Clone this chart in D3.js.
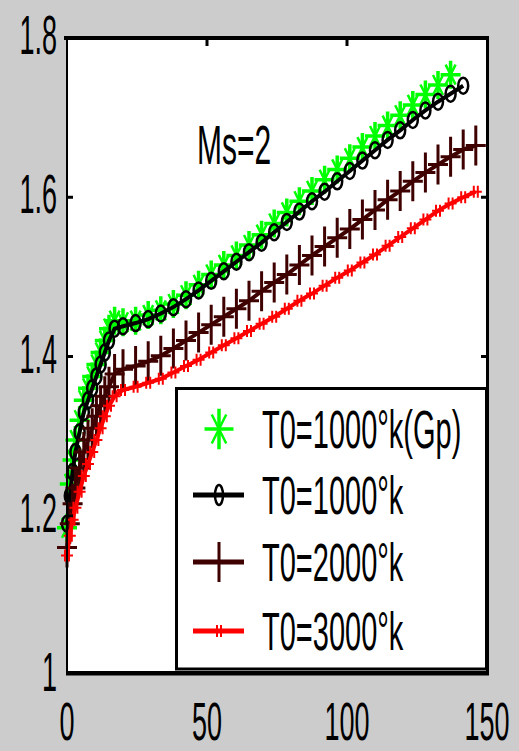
<!DOCTYPE html>
<html>
<head>
<meta charset="utf-8">
<script src="https://cdn.jsdelivr.net/npm/d3@7"></script>
<style>
body{margin:0;background:#cccccc;}
svg{display:block;}
text{font-family:"Liberation Sans",Arial,sans-serif;fill:#000;}
</style>
</head>
<body>
<svg id="chart" width="519" height="751"></svg>
<script>
// x positions shared by all curves
const xs = [0, 1, 2, 3, 4.5, 6, 7.5, 9, 10.5, 12, 13.5, 15, 17, 20, 24.5, 29, 33.5, 38, 42.5, 47,
            51.5, 56, 60.5, 65, 69.5, 74, 78.5, 83, 87.5, 92, 96.5, 101, 105.5, 110, 114.5, 119,
            123.5, 128, 132.5, 137, 141.5, 146]

// T0=1000°k (Gp) - green stars
const yGp1000 = [1.185, 1.24, 1.27, 1.295, 1.32, 1.345, 1.36, 1.375, 1.39, 1.405, 1.42, 1.435, 1.445,
                 1.443, 1.445, 1.452, 1.458, 1.466, 1.477, 1.49, 1.503, 1.515, 1.527, 1.54, 1.553,
                 1.567, 1.581, 1.595, 1.608, 1.622, 1.635, 1.649, 1.663, 1.677, 1.69, 1.703, 1.716,
                 1.729, 1.741, 1.754]
// T0=1000°k - black circles
const y1000 = [1.19, 1.225, 1.255, 1.28, 1.305, 1.33, 1.345, 1.36, 1.375, 1.39, 1.405, 1.42, 1.435,
               1.438, 1.442, 1.447, 1.454, 1.462, 1.472, 1.483, 1.495, 1.507, 1.519, 1.531, 1.543,
               1.556, 1.569, 1.582, 1.595, 1.607, 1.62, 1.633, 1.646, 1.659, 1.672, 1.684, 1.697,
               1.709, 1.72, 1.73, 1.74]
// T0=2000°k - dark red plus
const y2000 = [1.16, 1.19, 1.215, 1.235, 1.26, 1.28, 1.295, 1.31, 1.325, 1.338, 1.35, 1.362, 1.378,
               1.384, 1.388, 1.394, 1.401, 1.41, 1.42, 1.43, 1.44, 1.45, 1.46, 1.47, 1.482, 1.493,
               1.503, 1.515, 1.527, 1.538, 1.549, 1.56, 1.572, 1.584, 1.597, 1.608, 1.62, 1.631,
               1.641, 1.651, 1.66, 1.665]
// T0=3000°k - red small plus
const y3000 = [1.15, 1.175, 1.195, 1.21, 1.23, 1.25, 1.265, 1.28, 1.295, 1.31, 1.325, 1.338, 1.35,
               1.358, 1.362, 1.367, 1.372, 1.38, 1.388, 1.396, 1.405, 1.414, 1.423, 1.432, 1.441,
               1.45, 1.46, 1.47, 1.479, 1.489, 1.499, 1.508, 1.518, 1.528, 1.539, 1.55, 1.561,
               1.572, 1.583, 1.592, 1.6, 1.607]

const xTicks = [0, 50, 100, 150]
const yTicks = [1, 1.2, 1.4, 1.6, 1.8]
const yTickLabels = ["1", "1.2", "1.4", "1.6", "1.8"]
const legendLabels = ["T0=1000°k(Gp)", "T0=1000°k", "T0=2000°k", "T0=3000°k"]
const seriesColors = ["#00ff00", "#000000", "#3f0000", "#ff0000"]
const annotation = "Ms=2"

const series = [
    {ys: yGp1000, color: seriesColors[0], line: false, marker: "star"},
    {ys: y1000, color: seriesColors[1], line: true, marker: "circle"},
    {ys: y2000, color: seriesColors[2], line: true, marker: "plus"},
    {ys: y3000, color: seriesColors[3], line: true, marker: "small"}
]

let svg = d3.select("#chart")
let xScale = d3.scaleLinear().domain([0, 150]).range([67, 487])
let yScale = d3.scaleLinear().domain([1, 1.8]).range([675, 38])

// plot area
svg.append("rect").attr("x", 67).attr("y", 38).attr("width", 420).attr("height", 635).attr("fill", "#fff")

// marker drawing (big = legend size)
function drawMarker(g, type, color, big) {
    let k = big ? 1.45 : 1
    if (type == "star") {
        g.append("path").attr("d", `M0,${-14*k}V${14*k}M${-10*k},0H${10*k}`)
            .attr("stroke", color).attr("stroke-width", 3.5).attr("fill", "none")
        g.append("path").attr("d", `M${-5*k},${-10*k}L${5*k},${10*k}M${-5*k},${10*k}L${5*k},${-10*k}`)
            .attr("stroke", color).attr("stroke-width", 2.5).attr("fill", "none")
    } else if (type == "circle") {
        g.append("ellipse").attr("rx", big ? 4 : 5).attr("ry", big ? 10 : 8)
            .attr("stroke", color).attr("stroke-width", 2.5).attr("fill", "none")
    } else if (type == "plus") {
        g.append("path").attr("d", "M0,-20V20M-10,0H10")
            .attr("stroke", color).attr("stroke-width", 3).attr("fill", "none")
    } else {
        g.append("path").attr("d", "M-2,-6V6M2,-6V6M-6,0H6")
            .attr("stroke", color).attr("stroke-width", 2).attr("fill", "none")
    }
}

let line = d3.line().x(function (d, i) {return xScale(xs[i])}).y(function (d) {return yScale(d)})

series.forEach(function (s) {
    let g = svg.append("g")
    if (s.line) {
        g.append("path").datum(s.ys).attr("d", line)
            .attr("fill", "none").attr("stroke", s.color).attr("stroke-width", 4)
    }
    g.selectAll(".mk").data(s.ys).enter().append("g").attr("class", "mk")
        .attr("transform", function (d, i) {return `translate(${xScale(xs[i])},${yScale(d)})`})
        .each(function () {drawMarker(d3.select(this), s.marker, s.color, false)})
})

// annotation
svg.append("text").attr("transform", "translate(197,164) scale(1,1.82)")
    .attr("font-size", 30).text(annotation)

// legend box
let lg = svg.append("g")
lg.append("rect").attr("x", 176.5).attr("y", 388.5).attr("width", 310).attr("height", 280.5)
    .attr("fill", "#fff").attr("stroke", "#000").attr("stroke-width", 3)
const legendY = [429, 495, 562, 631]
legendLabels.forEach(function (d, i) {
    let row = lg.append("g").attr("transform", `translate(219,${legendY[i]})`)
    if (series[i].line) {
        row.append("line").attr("x1", -26).attr("x2", 25).attr("stroke", series[i].color).attr("stroke-width", 5)
    }
    drawMarker(row, series[i].marker, series[i].color, true)
    lg.append("text").attr("transform", `translate(262,${legendY[i] + 19}) scale(1,1.87)`)
        .attr("font-size", 29).text(d)
})

// axes box
svg.append("line").attr("x1", 64).attr("x2", 489).attr("y1", 38).attr("y2", 38).attr("stroke", "#000").attr("stroke-width", 4)
svg.append("line").attr("x1", 67).attr("x2", 67).attr("y1", 36).attr("y2", 675).attr("stroke", "#000").attr("stroke-width", 2)
svg.append("line").attr("x1", 487.5).attr("x2", 487.5).attr("y1", 36).attr("y2", 675).attr("stroke", "#000").attr("stroke-width", 3)
svg.append("line").attr("x1", 66).attr("x2", 489).attr("y1", 673.3).attr("y2", 673.3).attr("stroke", "#000").attr("stroke-width", 4.5)

// inward ticks
let ticks = svg.append("g").attr("stroke", "#000").attr("stroke-width", 3)
yTicks.slice(1, 4).forEach(function (t) {
    ticks.append("line").attr("x1", 67).attr("x2", 73).attr("y1", yScale(t)).attr("y2", yScale(t))
    if (yScale(t) < 388) ticks.append("line").attr("x1", 481).attr("x2", 487).attr("y1", yScale(t)).attr("y2", yScale(t))
})
xTicks.slice(1, 3).forEach(function (t) {
    ticks.append("line").attr("x1", xScale(t)).attr("x2", xScale(t)).attr("y1", 38).attr("y2", 46)
})

// tick labels
yTicks.forEach(function (t, i) {
    svg.append("text").attr("text-anchor", "end")
        .attr("transform", `translate(57,${yScale(t) + 16}) scale(1,2.07)`)
        .attr("font-size", 27).text(yTickLabels[i])
})
xTicks.forEach(function (t) {
    svg.append("text").attr("text-anchor", "middle")
        .attr("transform", `translate(${xScale(t)},740) scale(1,1.98)`)
        .attr("font-size", 27).text(t)
})
</script>
</body>
</html>
